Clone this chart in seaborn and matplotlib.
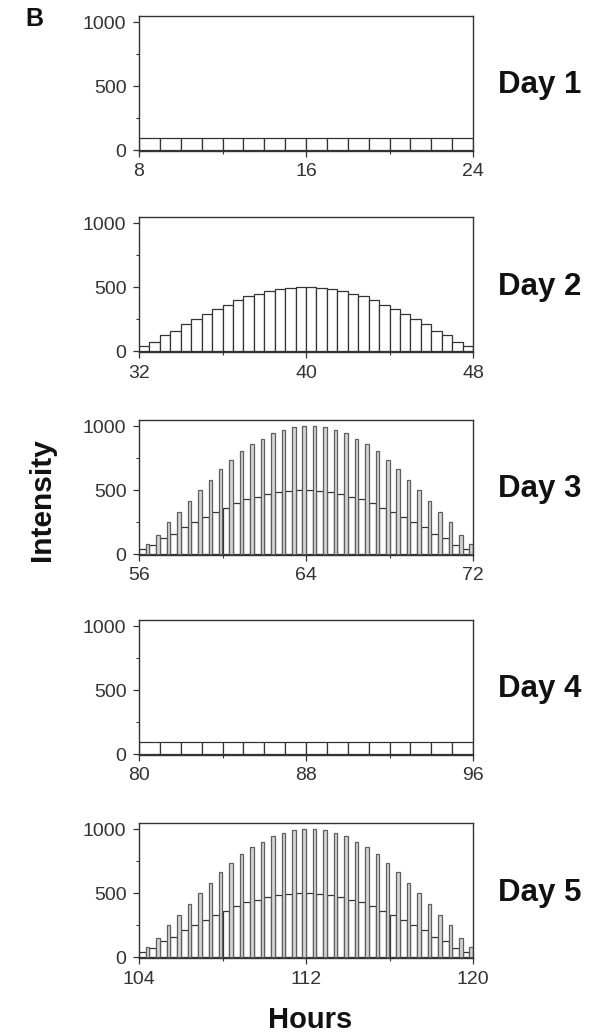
import numpy as np
import pandas as pd
import matplotlib
matplotlib.use("Agg")
import matplotlib.pyplot as plt
import seaborn as sns

# ---- data -------------------------------------------------------------
# slot start hour of each day, 16 one-hour slots (flat days) or 32 half-hour slots (peaked days)
day_names = ["Day 1", "Day 2", "Day 3", "Day 4", "Day 5"]
day_start = [8, 32, 56, 80, 104]

flat_values = [100, 100, 100, 100, 100, 100, 100, 100,
               100, 100, 100, 100, 100, 100, 100, 100]

low_peak = [40, 75, 125, 160, 210, 250, 295, 330, 365, 400, 430, 450, 470, 485, 495, 500,
            500, 495, 485, 470, 450, 430, 400, 365, 330, 295, 250, 210, 160, 125, 75, 40]

high_peak = [80, 155, 250, 330, 420, 500, 585, 665, 740, 805, 860, 905, 945, 975, 995, 1000,
             1000, 995, 975, 945, 905, 860, 805, 740, 665, 585, 500, 420, 330, 250, 155, 80]

# which series each day shows
day_kind = ["flat", "low", "both", "flat", "both"]

# ---- layout -----------------------------------------------------------
W, H = 595, 1036
panel_tops = [16, 217, 420, 620, 823]
panel_h = 135
ax_left, ax_right = 139, 473

sns.set_style("ticks")
plt.rcParams["font.family"] = ["Liberation Sans", "DejaVu Sans"]
plt.rcParams["axes.edgecolor"] = "#333333"
plt.rcParams["xtick.color"] = "#333333"
plt.rcParams["ytick.color"] = "#333333"

fig = plt.figure(figsize=(W / 100, H / 100), dpi=100)
fig.patch.set_facecolor("white")

for name, start, kind, top in zip(day_names, day_start, day_kind, panel_tops):
    ax = fig.add_axes([ax_left / W, 1 - (top + panel_h) / H,
                       (ax_right - ax_left) / W, panel_h / H])

    if kind == "flat":
        hours = np.arange(start, start + 16, 1.0)
        df = pd.DataFrame({"Hour": hours + 0.5, "Intensity": flat_values})
        sns.barplot(data=df, x="Hour", y="Intensity", native_scale=True, width=1.0,
                    color="white", edgecolor="#333333", linewidth=0.9,
                    saturation=1, errorbar=None, ax=ax)
    else:
        hours = np.arange(start, start + 16, 0.5)
        if kind == "low":
            df = pd.DataFrame({"Hour": hours + 0.25, "Intensity": low_peak})
            sns.barplot(data=df, x="Hour", y="Intensity", native_scale=True, width=1.0,
                        color="white", edgecolor="#333333", linewidth=0.9,
                        saturation=1, errorbar=None, ax=ax)
        else:
            df_low = pd.DataFrame({"Hour": hours + 0.165, "Intensity": low_peak})
            df_high = pd.DataFrame({"Hour": hours + 0.415, "Intensity": high_peak})
            sns.barplot(data=df_low, x="Hour", y="Intensity", native_scale=True, width=0.66,
                        color="white", edgecolor="#333333", linewidth=0.9,
                        saturation=1, errorbar=None, ax=ax)
            sns.barplot(data=df_high, x="Hour", y="Intensity", native_scale=True, width=0.34,
                        color="#d4d4d4", edgecolor="#5e5e5e", linewidth=0.9,
                        saturation=1, errorbar=None, ax=ax)

    ax.set_xlim(start, start + 16)
    ax.set_ylim(-5, 1050)
    ax.set_xticks([start, start + 8, start + 16])
    ax.set_xticks([start + 4, start + 12], minor=True)
    ax.set_yticks([0, 500, 1000])
    ax.set_yticks([250, 750], minor=True)
    ax.tick_params(axis="both", which="major", direction="out", length=4, width=0.9,
                   labelsize=14, labelcolor="#333333", pad=5)
    ax.tick_params(axis="both", which="minor", direction="out", length=2.5, width=0.8)
    for sp in ax.spines.values():
        sp.set_visible(True)
        sp.set_linewidth(1.0)
        sp.set_color("#333333")
    ax.set_xlabel("")
    ax.set_ylabel("")

    fig.text(498 / W, 1 - (top + panel_h / 2 + 2) / H, name, ha="left", va="center",
             fontsize=22.5, fontweight="bold", color="#111111")

fig.text(25 / W, 1 - 19 / H, "B", ha="left", va="center", fontsize=18,
         fontweight="bold", color="#111111")
fig.text(42 / W, 1 - 500 / H, "Intensity", rotation=90, ha="center", va="center",
         fontsize=21.5, fontweight="bold", color="#111111")
fig.text(310 / W, 1 - 1020 / H, "Hours", ha="center", va="center",
         fontsize=21, fontweight="bold", color="#111111")

fig.savefig("out.png", dpi=100, facecolor="white")
